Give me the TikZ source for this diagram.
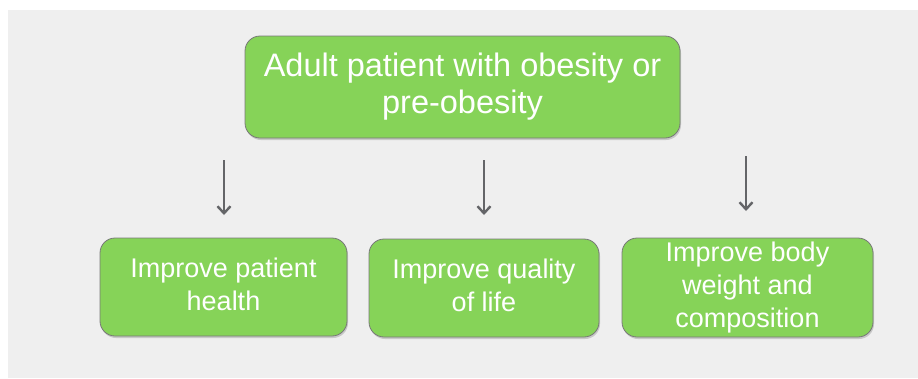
\documentclass[tikz,border=0pt]{standalone}
\usepackage{fontspec}
\setmainfont{Liberation Sans}
\usetikzlibrary{arrows.meta,shadows}
\definecolor{bggray}{RGB}{239,239,239}
\definecolor{boxgreen}{RGB}{134,211,88}
\definecolor{boxedge}{RGB}{120,120,120}
\definecolor{arrowgray}{RGB}{100,101,104}
\tikzset{
  greenbox/.style={draw=boxedge, line width=0.8pt, fill=boxgreen, rounded corners=15pt,
    text=white, align=center, inner sep=0pt,
    drop shadow={shadow xshift=1pt, shadow yshift=-2pt, opacity=0.35, fill=gray}},
  topfont/.style={font=\fontsize{32.5}{37}\selectfont},
  subfont/.style={font=\fontsize{27}{33}\selectfont},
  flowarrow/.style={draw=arrowgray, line width=2.2pt, -{Straight Barb[length=7pt,width=13pt,line width=2.4pt]}}
}
\begin{document}
\begin{tikzpicture}[x=1pt,y=-1pt]
\useasboundingbox (0,0) rectangle (918,378);
\fill[white] (0,0) rectangle (918,378);
\fill[bggray] (8,10) rectangle (918,378);
\node[greenbox, topfont, minimum width=435pt, minimum height=102pt] (top) at (462.5,87) {Adult patient with obesity or\\pre-obesity};
\node[greenbox, subfont, minimum width=247pt, minimum height=98pt, text depth=6.5pt] (b1) at (223.5,287) {Improve patient\\health};
\node[greenbox, subfont, minimum width=230pt, minimum height=98pt, text depth=6.5pt] (b2) at (484,288) {Improve quality\\of life};
\node[greenbox, subfont, minimum width=251pt, minimum height=99pt] (b3) at (747.5,287.5) {Improve body\\weight and\\composition};
\coordinate (a1s) at (224,160);
\coordinate (a1e) at (224,215);
\coordinate (a2s) at (484,160);
\coordinate (a2e) at (484,215);
\coordinate (a3s) at (746,156);
\coordinate (a3e) at (746,211);
\draw[flowarrow] (a1s) -- (a1e);
\draw[flowarrow] (a2s) -- (a2e);
\draw[flowarrow] (a3s) -- (a3e);
\end{tikzpicture}
\end{document}
